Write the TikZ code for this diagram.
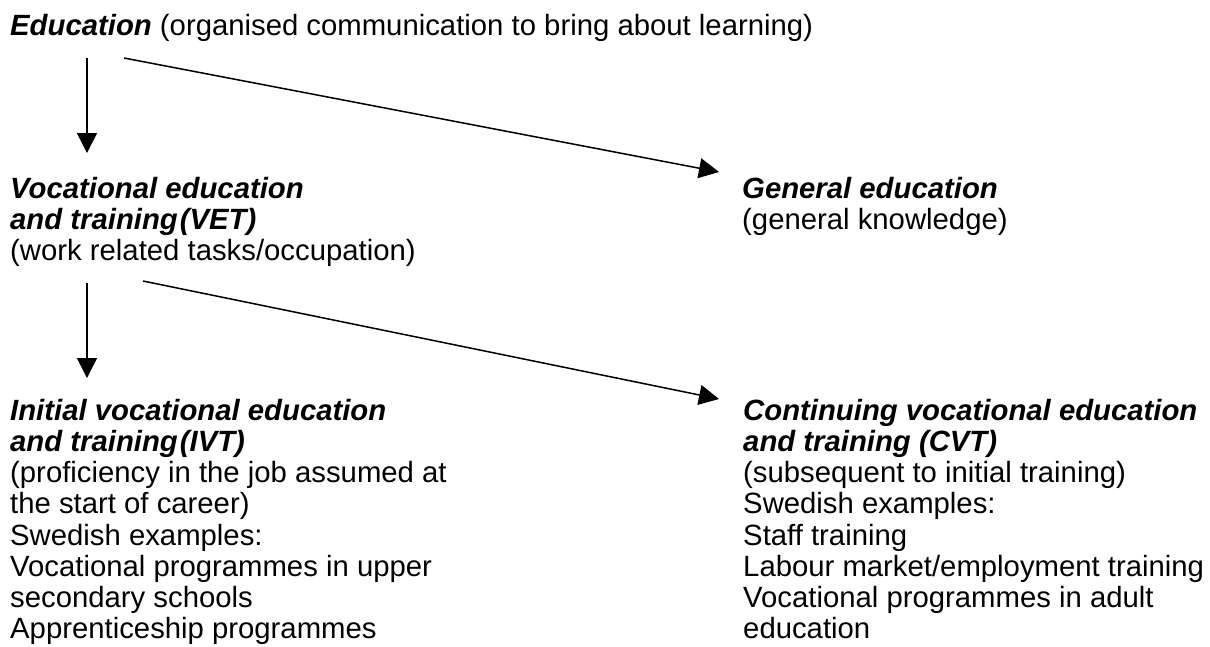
\documentclass[tikz,border=0pt]{standalone}
\usepackage{fontspec}
\setmainfont{Liberation Sans}
\usetikzlibrary{arrows.meta}
\begin{document}
\begin{tikzpicture}[x=1pt,y=-1pt,
  txt/.style={anchor=north west,inner sep=0pt,align=left,
    font=\fontsize{29.3}{31.2}\selectfont},
  arr/.style={line width=1.5pt,-{Triangle[length=20pt,width=20pt]}}]
\useasboundingbox (0,0) rectangle (1210,646);
\newcommand{\hd}[1]{{\bfseries\itshape #1}}
\newcommand{\tp}{\rule{0pt}{22pt}}

% text blocks
\node[txt] (edu) at (10,13) {\tp\hd{Education} (organised communication to bring about learning)};
\node[txt] (vet) at (10,176) {\tp\hd{Vocational education}\\
  \hd{and training\hspace{2pt}(VET)}\\
  (work related tasks/occupation)};
\node[txt] (gen) at (742,176) {\tp\hd{General education}\\
  (general knowledge)};
\node[txt] (ivt) at (10,398) {\tp\hd{Initial vocational education}\\
  \hd{and training\hspace{2pt}(IVT)}\\
  (proficiency in the job assumed at\\
  the start of career)\\
  Swedish examples:\\
  Vocational programmes in upper\\
  secondary schools\\
  Apprenticeship programmes};
\node[txt] (cvt) at (743,398) {\tp\hd{Continuing vocational education}\\
  \hd{and training (CVT)}\\
  (subsequent to initial training)\\
  Swedish examples:\\
  Staff training\\
  Labour market/employment training\\
  Vocational programmes in adult\\
  education};

% connector end points
\coordinate (eduDown) at (87,58);
\coordinate (eduSide) at (124,58);
\coordinate (vetIn) at (87,153);
\coordinate (genIn) at (719,172);
\coordinate (vetDown) at (87,283);
\coordinate (vetSide) at (143,281);
\coordinate (ivtIn) at (87,378);
\coordinate (cvtIn) at (719,399);

% connectors
\draw[arr] (eduDown) -- (vetIn);
\draw[arr] (eduSide) -- (genIn);
\draw[arr] (vetDown) -- (ivtIn);
\draw[arr] (vetSide) -- (cvtIn);
\end{tikzpicture}
\end{document}
